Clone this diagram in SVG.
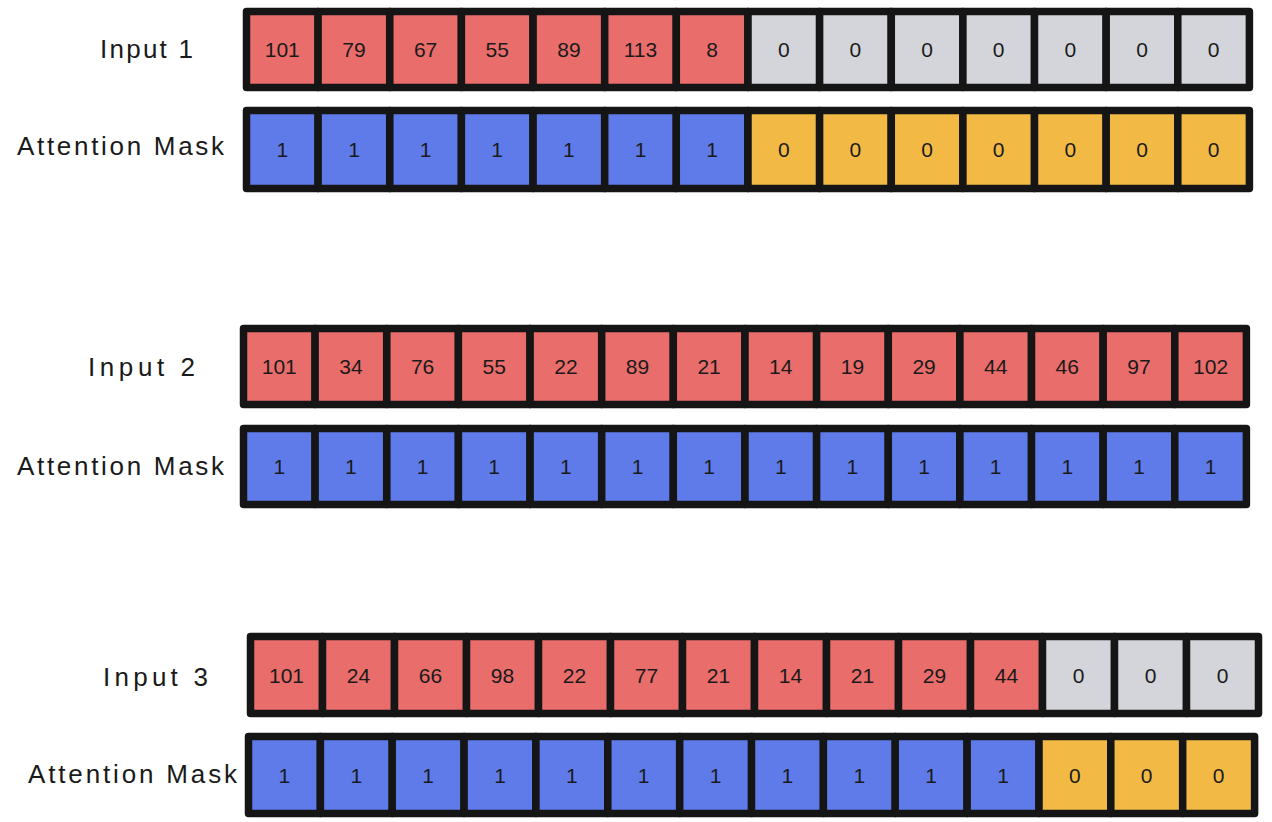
<svg xmlns="http://www.w3.org/2000/svg" width="1272" height="822" viewBox="0 0 1272 822">
<style>
.cell rect{stroke:#151515;stroke-width:7.5;stroke-linejoin:round}
.red rect{fill:#E96D6B}
.blue rect{fill:#5F7BEA}
.gray rect{fill:#D3D5DB}
.yellow rect{fill:#F2BA45}
.cell text{font-family:"Liberation Sans",Arial,sans-serif;font-size:21px;fill:#1a1a1a;text-anchor:middle}
.label{font-family:"Liberation Sans",Arial,sans-serif;font-size:26px;fill:#1a1a1a}
</style>
<rect width="1272" height="822" fill="#ffffff"/>
<g id="labels">
<text id="label-input1" class="label" x="100" y="58" textLength="93" lengthAdjust="spacing">Input 1</text>
<text id="label-mask1" class="label" x="17" y="155" textLength="207" lengthAdjust="spacing">Attention Mask</text>
<text id="label-input2" class="label" x="88" y="376" textLength="107" lengthAdjust="spacing">Input 2</text>
<text id="label-mask2" class="label" x="17" y="475" textLength="207" lengthAdjust="spacing">Attention Mask</text>
<text id="label-input3" class="label" x="103" y="686" textLength="105" lengthAdjust="spacing">Input 3</text>
<text id="label-mask3" class="label" x="28" y="783" textLength="209" lengthAdjust="spacing">Attention Mask</text>
</g>
<g id="input1">
<g id="i1c1" class="cell red"><rect x="246.5" y="11.5" width="71.6" height="76"/><text x="282.3" y="57">101</text></g>
<g id="i1c2" class="cell red"><rect x="318.1" y="11.5" width="71.6" height="76"/><text x="354.0" y="57">79</text></g>
<g id="i1c3" class="cell red"><rect x="389.8" y="11.5" width="71.6" height="76"/><text x="425.6" y="57">67</text></g>
<g id="i1c4" class="cell red"><rect x="461.4" y="11.5" width="71.6" height="76"/><text x="497.2" y="57">55</text></g>
<g id="i1c5" class="cell red"><rect x="533.1" y="11.5" width="71.6" height="76"/><text x="568.9" y="57">89</text></g>
<g id="i1c6" class="cell red"><rect x="604.7" y="11.5" width="71.6" height="76"/><text x="640.5" y="57">113</text></g>
<g id="i1c7" class="cell red"><rect x="676.3" y="11.5" width="71.6" height="76"/><text x="712.2" y="57">8</text></g>
<g id="i1c8" class="cell gray"><rect x="748.0" y="11.5" width="71.6" height="76"/><text x="783.8" y="57">0</text></g>
<g id="i1c9" class="cell gray"><rect x="819.6" y="11.5" width="71.6" height="76"/><text x="855.4" y="57">0</text></g>
<g id="i1c10" class="cell gray"><rect x="891.3" y="11.5" width="71.6" height="76"/><text x="927.1" y="57">0</text></g>
<g id="i1c11" class="cell gray"><rect x="962.9" y="11.5" width="71.6" height="76"/><text x="998.7" y="57">0</text></g>
<g id="i1c12" class="cell gray"><rect x="1034.5" y="11.5" width="71.6" height="76"/><text x="1070.4" y="57">0</text></g>
<g id="i1c13" class="cell gray"><rect x="1106.2" y="11.5" width="71.6" height="76"/><text x="1142.0" y="57">0</text></g>
<g id="i1c14" class="cell gray"><rect x="1177.8" y="11.5" width="71.6" height="76"/><text x="1213.6" y="57">0</text></g>
</g>
<g id="mask1">
<g id="m1c1" class="cell blue"><rect x="246.5" y="110.5" width="71.6" height="78"/><text x="282.3" y="157">1</text></g>
<g id="m1c2" class="cell blue"><rect x="318.1" y="110.5" width="71.6" height="78"/><text x="354.0" y="157">1</text></g>
<g id="m1c3" class="cell blue"><rect x="389.8" y="110.5" width="71.6" height="78"/><text x="425.6" y="157">1</text></g>
<g id="m1c4" class="cell blue"><rect x="461.4" y="110.5" width="71.6" height="78"/><text x="497.2" y="157">1</text></g>
<g id="m1c5" class="cell blue"><rect x="533.1" y="110.5" width="71.6" height="78"/><text x="568.9" y="157">1</text></g>
<g id="m1c6" class="cell blue"><rect x="604.7" y="110.5" width="71.6" height="78"/><text x="640.5" y="157">1</text></g>
<g id="m1c7" class="cell blue"><rect x="676.3" y="110.5" width="71.6" height="78"/><text x="712.2" y="157">1</text></g>
<g id="m1c8" class="cell yellow"><rect x="748.0" y="110.5" width="71.6" height="78"/><text x="783.8" y="157">0</text></g>
<g id="m1c9" class="cell yellow"><rect x="819.6" y="110.5" width="71.6" height="78"/><text x="855.4" y="157">0</text></g>
<g id="m1c10" class="cell yellow"><rect x="891.3" y="110.5" width="71.6" height="78"/><text x="927.1" y="157">0</text></g>
<g id="m1c11" class="cell yellow"><rect x="962.9" y="110.5" width="71.6" height="78"/><text x="998.7" y="157">0</text></g>
<g id="m1c12" class="cell yellow"><rect x="1034.5" y="110.5" width="71.6" height="78"/><text x="1070.4" y="157">0</text></g>
<g id="m1c13" class="cell yellow"><rect x="1106.2" y="110.5" width="71.6" height="78"/><text x="1142.0" y="157">0</text></g>
<g id="m1c14" class="cell yellow"><rect x="1177.8" y="110.5" width="71.6" height="78"/><text x="1213.6" y="157">0</text></g>
</g>
<g id="input2">
<g id="i2c1" class="cell red"><rect x="243.5" y="328.5" width="71.6" height="76"/><text x="279.3" y="374">101</text></g>
<g id="i2c2" class="cell red"><rect x="315.1" y="328.5" width="71.6" height="76"/><text x="350.9" y="374">34</text></g>
<g id="i2c3" class="cell red"><rect x="386.8" y="328.5" width="71.6" height="76"/><text x="422.6" y="374">76</text></g>
<g id="i2c4" class="cell red"><rect x="458.4" y="328.5" width="71.6" height="76"/><text x="494.2" y="374">55</text></g>
<g id="i2c5" class="cell red"><rect x="530.1" y="328.5" width="71.6" height="76"/><text x="565.9" y="374">22</text></g>
<g id="i2c6" class="cell red"><rect x="601.7" y="328.5" width="71.6" height="76"/><text x="637.5" y="374">89</text></g>
<g id="i2c7" class="cell red"><rect x="673.3" y="328.5" width="71.6" height="76"/><text x="709.1" y="374">21</text></g>
<g id="i2c8" class="cell red"><rect x="745.0" y="328.5" width="71.6" height="76"/><text x="780.8" y="374">14</text></g>
<g id="i2c9" class="cell red"><rect x="816.6" y="328.5" width="71.6" height="76"/><text x="852.4" y="374">19</text></g>
<g id="i2c10" class="cell red"><rect x="888.3" y="328.5" width="71.6" height="76"/><text x="924.1" y="374">29</text></g>
<g id="i2c11" class="cell red"><rect x="959.9" y="328.5" width="71.6" height="76"/><text x="995.7" y="374">44</text></g>
<g id="i2c12" class="cell red"><rect x="1031.5" y="328.5" width="71.6" height="76"/><text x="1067.3" y="374">46</text></g>
<g id="i2c13" class="cell red"><rect x="1103.2" y="328.5" width="71.6" height="76"/><text x="1139.0" y="374">97</text></g>
<g id="i2c14" class="cell red"><rect x="1174.8" y="328.5" width="71.6" height="76"/><text x="1210.6" y="374">102</text></g>
</g>
<g id="mask2">
<g id="m2c1" class="cell blue"><rect x="243.5" y="428.5" width="71.6" height="76"/><text x="279.3" y="474">1</text></g>
<g id="m2c2" class="cell blue"><rect x="315.1" y="428.5" width="71.6" height="76"/><text x="350.9" y="474">1</text></g>
<g id="m2c3" class="cell blue"><rect x="386.8" y="428.5" width="71.6" height="76"/><text x="422.6" y="474">1</text></g>
<g id="m2c4" class="cell blue"><rect x="458.4" y="428.5" width="71.6" height="76"/><text x="494.2" y="474">1</text></g>
<g id="m2c5" class="cell blue"><rect x="530.1" y="428.5" width="71.6" height="76"/><text x="565.9" y="474">1</text></g>
<g id="m2c6" class="cell blue"><rect x="601.7" y="428.5" width="71.6" height="76"/><text x="637.5" y="474">1</text></g>
<g id="m2c7" class="cell blue"><rect x="673.3" y="428.5" width="71.6" height="76"/><text x="709.1" y="474">1</text></g>
<g id="m2c8" class="cell blue"><rect x="745.0" y="428.5" width="71.6" height="76"/><text x="780.8" y="474">1</text></g>
<g id="m2c9" class="cell blue"><rect x="816.6" y="428.5" width="71.6" height="76"/><text x="852.4" y="474">1</text></g>
<g id="m2c10" class="cell blue"><rect x="888.3" y="428.5" width="71.6" height="76"/><text x="924.1" y="474">1</text></g>
<g id="m2c11" class="cell blue"><rect x="959.9" y="428.5" width="71.6" height="76"/><text x="995.7" y="474">1</text></g>
<g id="m2c12" class="cell blue"><rect x="1031.5" y="428.5" width="71.6" height="76"/><text x="1067.3" y="474">1</text></g>
<g id="m2c13" class="cell blue"><rect x="1103.2" y="428.5" width="71.6" height="76"/><text x="1139.0" y="474">1</text></g>
<g id="m2c14" class="cell blue"><rect x="1174.8" y="428.5" width="71.6" height="76"/><text x="1210.6" y="474">1</text></g>
</g>
<g id="input3">
<g id="i3c1" class="cell red"><rect x="250.5" y="636.5" width="72" height="77"/><text x="286.5" y="682.5">101</text></g>
<g id="i3c2" class="cell red"><rect x="322.5" y="636.5" width="72" height="77"/><text x="358.5" y="682.5">24</text></g>
<g id="i3c3" class="cell red"><rect x="394.5" y="636.5" width="72" height="77"/><text x="430.5" y="682.5">66</text></g>
<g id="i3c4" class="cell red"><rect x="466.5" y="636.5" width="72" height="77"/><text x="502.5" y="682.5">98</text></g>
<g id="i3c5" class="cell red"><rect x="538.5" y="636.5" width="72" height="77"/><text x="574.5" y="682.5">22</text></g>
<g id="i3c6" class="cell red"><rect x="610.5" y="636.5" width="72" height="77"/><text x="646.5" y="682.5">77</text></g>
<g id="i3c7" class="cell red"><rect x="682.5" y="636.5" width="72" height="77"/><text x="718.5" y="682.5">21</text></g>
<g id="i3c8" class="cell red"><rect x="754.5" y="636.5" width="72" height="77"/><text x="790.5" y="682.5">14</text></g>
<g id="i3c9" class="cell red"><rect x="826.5" y="636.5" width="72" height="77"/><text x="862.5" y="682.5">21</text></g>
<g id="i3c10" class="cell red"><rect x="898.5" y="636.5" width="72" height="77"/><text x="934.5" y="682.5">29</text></g>
<g id="i3c11" class="cell red"><rect x="970.5" y="636.5" width="72" height="77"/><text x="1006.5" y="682.5">44</text></g>
<g id="i3c12" class="cell gray"><rect x="1042.5" y="636.5" width="72" height="77"/><text x="1078.5" y="682.5">0</text></g>
<g id="i3c13" class="cell gray"><rect x="1114.5" y="636.5" width="72" height="77"/><text x="1150.5" y="682.5">0</text></g>
<g id="i3c14" class="cell gray"><rect x="1186.5" y="636.5" width="72" height="77"/><text x="1222.5" y="682.5">0</text></g>
</g>
<g id="mask3">
<g id="m3c1" class="cell blue"><rect x="248.5" y="736.5" width="71.9" height="77"/><text x="284.4" y="782.5">1</text></g>
<g id="m3c2" class="cell blue"><rect x="320.4" y="736.5" width="71.9" height="77"/><text x="356.3" y="782.5">1</text></g>
<g id="m3c3" class="cell blue"><rect x="392.2" y="736.5" width="71.9" height="77"/><text x="428.1" y="782.5">1</text></g>
<g id="m3c4" class="cell blue"><rect x="464.1" y="736.5" width="71.9" height="77"/><text x="500.0" y="782.5">1</text></g>
<g id="m3c5" class="cell blue"><rect x="535.9" y="736.5" width="71.9" height="77"/><text x="571.8" y="782.5">1</text></g>
<g id="m3c6" class="cell blue"><rect x="607.8" y="736.5" width="71.9" height="77"/><text x="643.7" y="782.5">1</text></g>
<g id="m3c7" class="cell blue"><rect x="679.7" y="736.5" width="71.9" height="77"/><text x="715.6" y="782.5">1</text></g>
<g id="m3c8" class="cell blue"><rect x="751.5" y="736.5" width="71.9" height="77"/><text x="787.4" y="782.5">1</text></g>
<g id="m3c9" class="cell blue"><rect x="823.4" y="736.5" width="71.9" height="77"/><text x="859.3" y="782.5">1</text></g>
<g id="m3c10" class="cell blue"><rect x="895.2" y="736.5" width="71.9" height="77"/><text x="931.1" y="782.5">1</text></g>
<g id="m3c11" class="cell blue"><rect x="967.1" y="736.5" width="71.9" height="77"/><text x="1003.0" y="782.5">1</text></g>
<g id="m3c12" class="cell yellow"><rect x="1039.0" y="736.5" width="71.9" height="77"/><text x="1074.9" y="782.5">0</text></g>
<g id="m3c13" class="cell yellow"><rect x="1110.8" y="736.5" width="71.9" height="77"/><text x="1146.7" y="782.5">0</text></g>
<g id="m3c14" class="cell yellow"><rect x="1182.7" y="736.5" width="71.9" height="77"/><text x="1218.6" y="782.5">0</text></g>
</g>
</svg>
